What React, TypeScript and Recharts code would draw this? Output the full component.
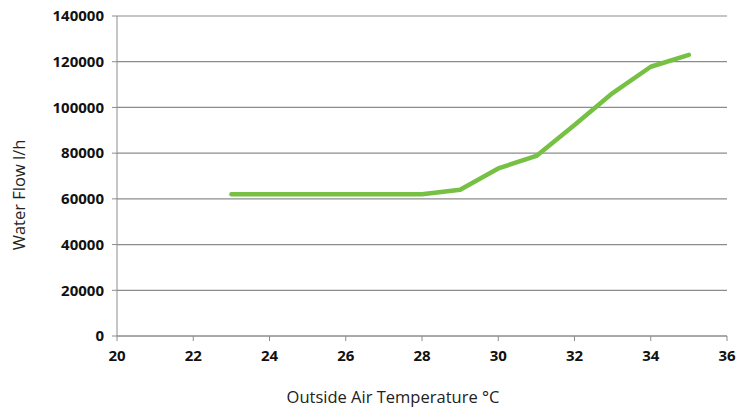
import { CartesianGrid, Line, LineChart, XAxis, YAxis } from "recharts";

// Outside air temperature (°C) vs water flow (l/h)
const temperatures = [23, 24, 25, 26, 27, 28, 29, 30, 31, 32, 33, 34, 35];
const waterFlow = [62000, 62000, 62000, 62000, 62000, 62000, 64000, 73300, 78800, 92300, 106300, 117800, 123000];

const xTicks = [20, 22, 24, 26, 28, 30, 32, 34, 36];
const yTicks = [0, 20000, 40000, 60000, 80000, 100000, 120000, 140000];

const data = temperatures.map((t, i) => ({ t, flow: waterFlow[i] }));

const GRAY = "#8c8c8c";
const tickStyle = { fill: "#111", fontSize: 15, fontWeight: 700, fontFamily: "'Open Sans', sans-serif" };
const titleStyle = { fill: "#222", fontSize: 16.5, fontFamily: "'Open Sans', sans-serif" };

export default function App() {
    return (
        <div style={{ position: "absolute", left: 0, top: 0, width: 741, height: 409, background: "#fff" }}>
            <style>{"body{margin:0}"}</style>
            <LineChart width={741} height={409} data={data} margin={{ top: 16, right: 14, left: 37, bottom: 43 }}>
                <CartesianGrid vertical={false} stroke={GRAY} strokeWidth={1.2} />
                <XAxis
                    dataKey="t"
                    type="number"
                    domain={[20, 36]}
                    ticks={xTicks}
                    stroke={GRAY}
                    tickSize={5}
                    tickMargin={9}
                    tick={tickStyle}
                    label={{
                        value: "Outside Air Temperature °C",
                        position: "insideBottom",
                        offset: -37,
                        dx: -29,
                        style: titleStyle,
                    }}
                />
                <YAxis
                    type="number"
                    domain={[0, 140000]}
                    ticks={yTicks}
                    width={80}
                    stroke={GRAY}
                    tickSize={5}
                    tickMargin={8}
                    tick={tickStyle}
                    label={{
                        value: "Water Flow l/h",
                        content: () => (
                            <text x={18} y={195} transform="rotate(-90 18 195)" textAnchor="middle" dominantBaseline="central" style={titleStyle}>
                                Water Flow l/h
                            </text>
                        ),
                    }}
                />
                <Line
                    dataKey="flow"
                    type="linear"
                    stroke="#76c043"
                    strokeWidth={4.5}
                    dot={false}
                    strokeLinecap="round"
                    strokeLinejoin="round"
                    isAnimationActive={false}
                />
            </LineChart>
        </div>
    );
}
